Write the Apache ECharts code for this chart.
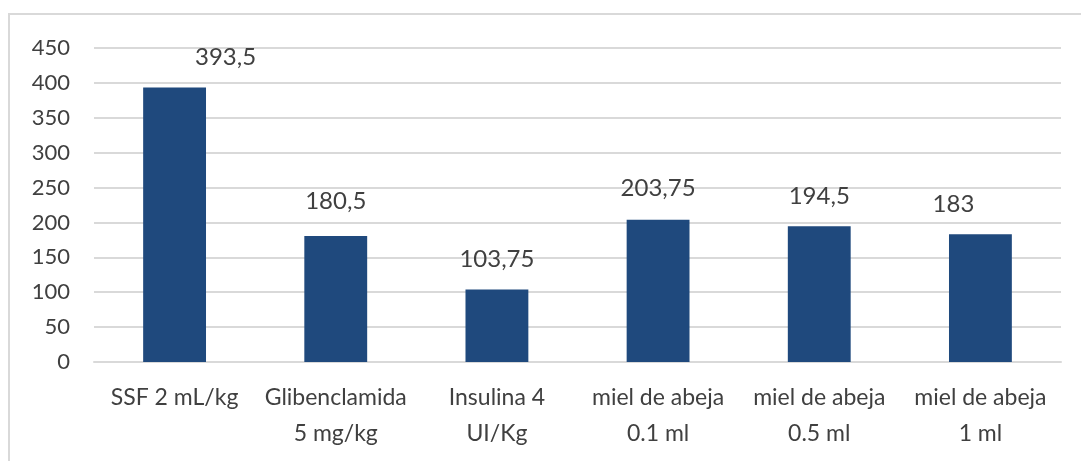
<!DOCTYPE html>
<html>
<head>
<meta charset="utf-8">
<script src="https://cdn.jsdelivr.net/npm/echarts@6/dist/echarts.min.js"></script>
<style>
  html, body { margin: 0; padding: 0; background: #fff; }
  #chart { width: 1081px; height: 461px; }
</style>
</head>
<body>
<div id="chart"></div>
<script>
// datos del gráfico
var categorias = ['SSF 2 mL/kg', 'Glibenclamida\n5 mg/kg', 'Insulina 4\nUI/Kg', 'miel de abeja\n0.1 ml', 'miel de abeja\n0.5 ml', 'miel de abeja\n1 ml'];
var valores = [393.5, 180.5, 103.75, 203.75, 194.5, 183];
var etiquetasY = [0, 50, 100, 150, 200, 250, 300, 350, 400, 450];

// desplazamiento de las etiquetas (como en el original de Excel)
var desplazamientos = [[51, 0], [0, -5], [0, 0], [0, -2], [0, 0], [-27, 0]];

var myChart = echarts.init(document.getElementById('chart'));

var fuente = 'Lato, "Open Sans", sans-serif';
var gris = '#404040';

var datos = valores.map(function (v, i) {
    return {
        value: v,
        label: { offset: desplazamientos[i] }
    };
});

var option = {
    animation: false,
    graphic: [{
        type: 'rect',
        shape: { x: 9, y: 14, width: 1100, height: 460 },
        style: { fill: 'none', stroke: '#d9d9d9', lineWidth: 2 },
        silent: true
    }],
    grid: { left: 94, right: 20, top: 48, bottom: 99 },
    xAxis: {
        type: 'category',
        data: categorias,
        axisLine: { show: true, lineStyle: { color: '#d9d9d9', width: 2 } },
        axisTick: { show: false },
        axisLabel: {
            color: gris,
            fontFamily: fuente,
            fontSize: 23,
            lineHeight: 36,
            margin: 18,
            interval: 0
        }
    },
    yAxis: {
        type: 'value',
        min: etiquetasY[0],
        max: etiquetasY[etiquetasY.length - 1],
        interval: 50,
        axisLine: { show: false },
        axisTick: { show: false },
        splitLine: { lineStyle: { color: '#d9d9d9', width: 2 } },
        axisLabel: {
            color: gris,
            fontFamily: fuente,
            fontSize: 22,
            margin: 24
        }
    },
    series: [{
        type: 'bar',
        data: datos,
        barWidth: '39%',
        itemStyle: { color: '#1f497d' },
        label: {
            show: true,
            position: 'top',
            distance: 18,
            color: gris,
            fontFamily: fuente,
            fontSize: 24,
            formatter: function (p) {
                return String(p.value).replace('.', ',');
            }
        }
    }]
};

myChart.setOption(option);
</script>
</body>
</html>
